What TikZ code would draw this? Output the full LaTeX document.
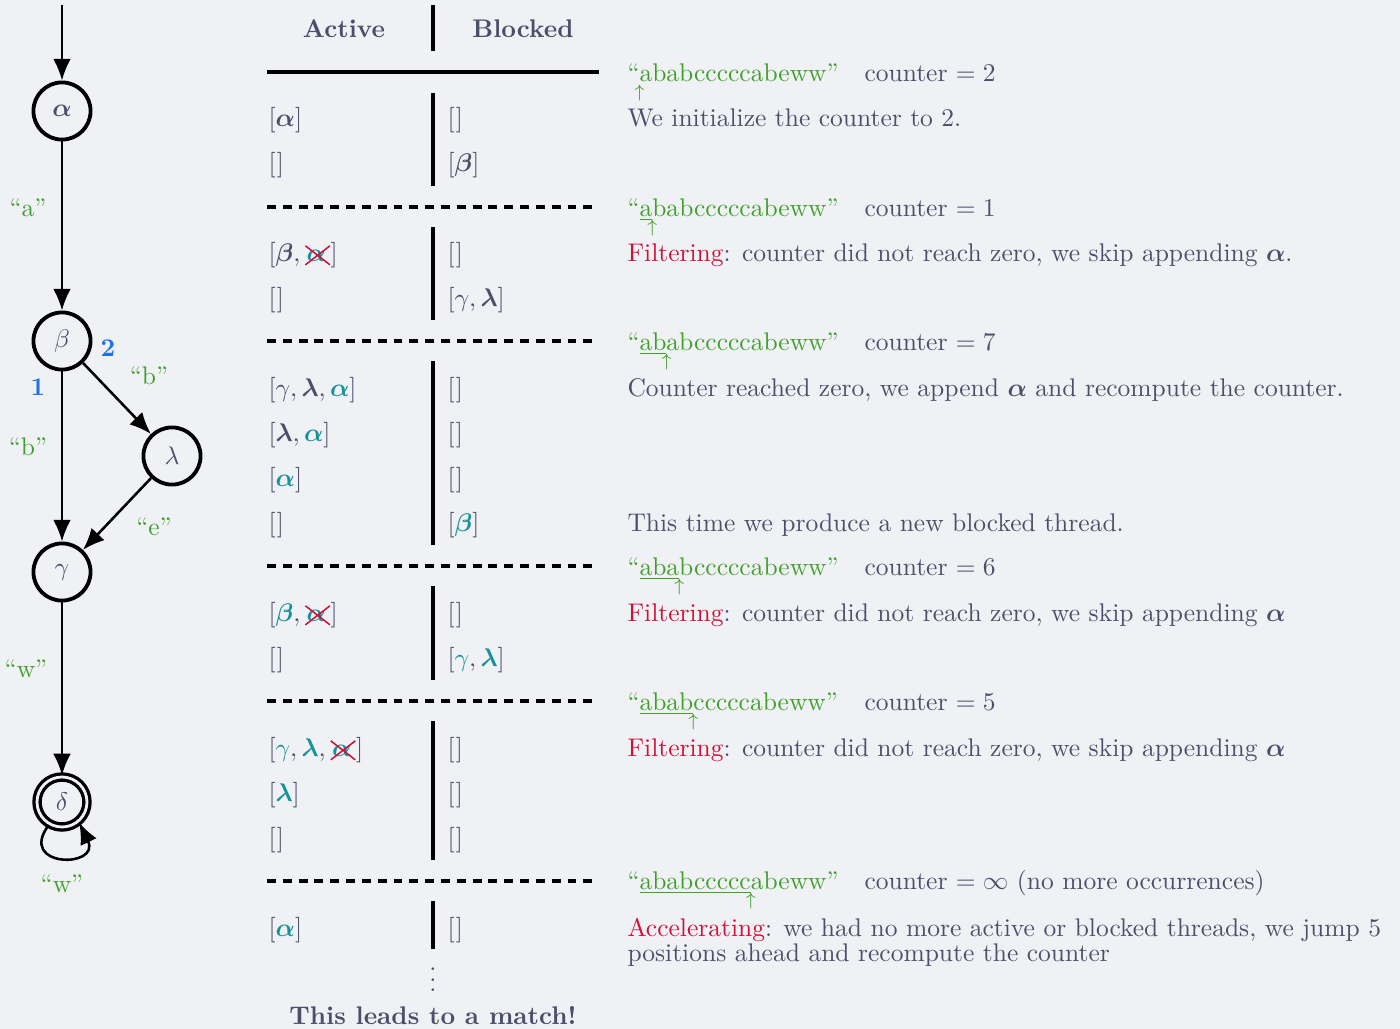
\documentclass[tikz,border=0pt]{standalone}
\usepackage{amsmath}
\usetikzlibrary{arrows.meta}
\definecolor{cbg}{HTML}{EFF1F5}
\definecolor{ctext}{HTML}{4C4F69}
\definecolor{cgreen}{HTML}{40A02B}
\definecolor{cred}{HTML}{D20F39}
\definecolor{cteal}{HTML}{179299}
\definecolor{cblue}{HTML}{1E72E8}
\newcommand\myStr[2]{\textcolor{cgreen}{“\underline{#1}\makebox[0pt]{\raisebox{-6.5pt}{\scriptsize$\uparrow$}}#2”}}
\newcommand\myXA{\tikz[baseline=(myxa.base)]{\node[inner sep=0pt,outer sep=0pt,text=cteal](myxa){$\boldsymbol{\alpha}$};\draw[cred,line width=0.6pt] ([shift={(-0.5pt,-1.5pt)}]myxa.south west)--([shift={(1.5pt,1.5pt)}]myxa.north east) ([shift={(-0.5pt,1.5pt)}]myxa.north west)--([shift={(1.5pt,-1.5pt)}]myxa.south east);}}
\newcommand\myT[1]{\textcolor{cteal}{#1}}
\begin{document}
\begin{tikzpicture}[x=0.392pt,y=-0.392pt,
  st/.style={circle, draw=black, line width=1.5pt, minimum size=22.4pt, inner sep=0pt, text=ctext},
  acc/.style={circle, draw=black, line width=1.3pt, double=cbg, double distance=1.1pt, minimum size=19.6pt, inner sep=0pt, text=ctext},
  arr/.style={line width=1pt, -{Latex[length=8.5pt,width=7pt]}},
  lbl/.style={text=cgreen, inner sep=0pt},
  num/.style={text=cblue, inner sep=0pt, font=\bfseries},
  cell/.style={text=ctext, inner sep=0pt, anchor=base west},
  hdr/.style={text=ctext, inner sep=0pt, anchor=base, font=\bfseries},
  bar/.style={line width=1.8pt},
  hrule/.style={line width=1.6pt},
  dline/.style={line width=1.6pt, dash pattern=on 3.5pt off 2.7pt}]
\fill[cbg] (0,0) rectangle (1400,1029);
\useasboundingbox (0,0) rectangle (1400,1029);

% ---------------- automaton ----------------
\node[st] (A) at (62,111) {$\boldsymbol{\alpha}$};
\node[st] (B) at (62,341) {$\beta$};
\node[st] (L) at (172,456) {$\lambda$};
\node[st] (G) at (62,572) {$\gamma$};
\node[acc] (D) at (62,802) {$\delta$};
\coordinate (start) at (62,5);
\draw[arr] (start) -- (A);
\draw[arr] (A) -- (B);
\draw[arr] (B) -- (G);
\draw[arr] (B) -- (L);
\draw[arr] (L) -- (G);
\draw[arr] (G) -- (D);
\draw[arr] (D.-120) .. controls +(-32,43) and +(22,46) .. (D.-50);
\node[lbl] (la) at (28,208) {“a”};
\node[lbl] (lb1) at (28,447) {“b”};
\node[lbl] (lb2) at (149,376) {“b”};
\node[lbl] (le) at (154,527) {“e”};
\node[lbl] (lw1) at (26,669) {“w”};
\node[lbl] (lw2) at (62,884) {“w”};
\node[num] (n1) at (38,387) {1};
\node[num] (n2) at (108,348) {2};

% ---------------- table header ----------------
\node[hdr] (hA) at (344,37) {Active};
\node[hdr] (hB) at (523,37) {Blocked};
\draw[bar] (433,5) -- (433,51);
\draw[hrule] (267,72) -- (599,72);

% section 1
\draw[bar] (433,93) -- (433,186);
\node[cell] (s1l1) at (268,126) {$[\boldsymbol{\alpha}]$};
\node[cell] (s1r1) at (447,126) {$[\mkern1mu]$};
\node[cell] (s1l2) at (268,171) {$[\mkern1mu]$};
\node[cell] (s1r2) at (447,171) {$[\boldsymbol{\beta}]$};
\node[cell] (s1s) at (627,81) {\myStr{}{ababcccccabeww}};
\node[cell] (s1c) at (864,81) {counter $=2$};
\node[cell] (s1d) at (627,126) {We initialize the counter to 2.};

% section 2
\draw[dline] (267,207) -- (599,207);
\draw[bar] (433,227) -- (433,320);
\node[cell] (s2l1) at (268,261) {$[\boldsymbol{\beta},\mbox{\myXA}]$};
\node[cell] (s2r1) at (447,261) {$[\mkern1mu]$};
\node[cell] (s2l2) at (268,306) {$[\mkern1mu]$};
\node[cell] (s2r2) at (447,306) {$[\gamma,\boldsymbol{\lambda}]$};
\node[cell] (s2s) at (627,216) {\myStr{a}{babcccccabeww}};
\node[cell] (s2c) at (864,216) {counter $=1$};
\node[cell] (s2d) at (627,261) {\textcolor{cred}{Filtering}: counter did not reach zero, we skip appending $\boldsymbol{\alpha}$.};

% section 3
\draw[dline] (267,341) -- (599,341);
\draw[bar] (433,361) -- (433,545);
\node[cell] (s3l1) at (268,396) {$[\gamma,\boldsymbol{\lambda},\myT{\boldsymbol{\alpha}}]$};
\node[cell] (s3r1) at (447,396) {$[\mkern1mu]$};
\node[cell] (s3l2) at (268,441) {$[\boldsymbol{\lambda},\myT{\boldsymbol{\alpha}}]$};
\node[cell] (s3r2) at (447,441) {$[\mkern1mu]$};
\node[cell] (s3l3) at (268,486) {$[\myT{\boldsymbol{\alpha}}]$};
\node[cell] (s3r3) at (447,486) {$[\mkern1mu]$};
\node[cell] (s3l4) at (268,531) {$[\mkern1mu]$};
\node[cell] (s3r4) at (447,531) {$[\myT{\boldsymbol{\beta}}]$};
\node[cell] (s3s) at (627,350) {\myStr{ab}{abcccccabeww}};
\node[cell] (s3c) at (864,350) {counter $=7$};
\node[cell] (s3d) at (627,396) {Counter reached zero, we append $\boldsymbol{\alpha}$ and recompute the counter.};
\node[cell] (s3e) at (627,531) {This time we produce a new blocked thread.};

% section 4
\draw[dline] (267,566) -- (599,566);
\draw[bar] (433,586) -- (433,680);
\node[cell] (s4l1) at (268,621) {$[\myT{\boldsymbol{\beta}},\mbox{\myXA}]$};
\node[cell] (s4r1) at (447,621) {$[\mkern1mu]$};
\node[cell] (s4l2) at (268,666) {$[\mkern1mu]$};
\node[cell] (s4r2) at (447,666) {$[\myT{\gamma},\myT{\boldsymbol{\lambda}}]$};
\node[cell] (s4s) at (627,575) {\myStr{aba}{bcccccabeww}};
\node[cell] (s4c) at (864,575) {counter $=6$};
\node[cell] (s4d) at (627,621) {\textcolor{cred}{Filtering}: counter did not reach zero, we skip appending $\boldsymbol{\alpha}$};

% section 5
\draw[dline] (267,701) -- (599,701);
\draw[bar] (433,721) -- (433,860);
\node[cell] (s5l1) at (268,756) {$[\myT{\gamma},\myT{\boldsymbol{\lambda}},\mbox{\myXA}]$};
\node[cell] (s5r1) at (447,756) {$[\mkern1mu]$};
\node[cell] (s5l2) at (268,801) {$[\myT{\boldsymbol{\lambda}}]$};
\node[cell] (s5r2) at (447,801) {$[\mkern1mu]$};
\node[cell] (s5l3) at (268,846) {$[\mkern1mu]$};
\node[cell] (s5r3) at (447,846) {$[\mkern1mu]$};
\node[cell] (s5s) at (627,710) {\myStr{abab}{cccccabeww}};
\node[cell] (s5c) at (864,710) {counter $=5$};
\node[cell] (s5d) at (627,756) {\textcolor{cred}{Filtering}: counter did not reach zero, we skip appending $\boldsymbol{\alpha}$};

% section 6
\draw[dline] (267,881) -- (599,881);
\draw[bar] (433,901) -- (433,949);
\node[cell] (s6l1) at (268,936) {$[\myT{\boldsymbol{\alpha}}]$};
\node[cell] (s6r1) at (447,936) {$[\mkern1mu]$};
\node[cell] (s6s) at (627,889) {\myStr{ababccccc}{abeww}};
\node[cell] (s6c) at (864,889) {counter $=\infty$ (no more occurrences)};
\node[cell] (s6d1) at (627,936) {\textcolor{cred}{Accelerating}: we had no more active or blocked threads, we jump 5};
\node[cell] (s6d2) at (627,961) {positions ahead and recompute the counter};
\node[text=ctext, inner sep=0pt] (dots) at (433,972) {$\vdots$};
\node[hdr] (match) at (433,1024) {This leads to a match!};
\end{tikzpicture}
\end{document}
